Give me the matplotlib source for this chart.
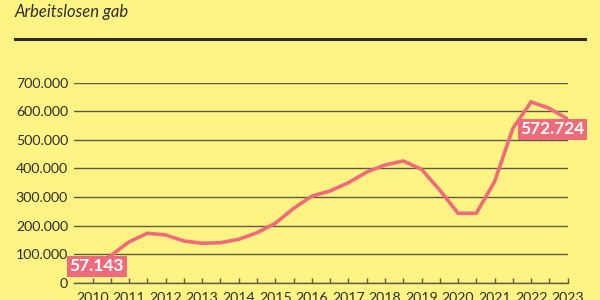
import matplotlib
matplotlib.use('Agg')
import matplotlib.pyplot as plt
from matplotlib.lines import Line2D
from matplotlib.ticker import FuncFormatter

# half-yearly values, unemployed persons
years = [2010, 2010.5, 2011, 2011.5, 2012, 2012.5, 2013, 2013.5, 2014, 2014.5,
         2015, 2015.5, 2016, 2016.5, 2017, 2017.5, 2018, 2018.5, 2019, 2019.5,
         2020, 2020.5, 2021, 2021.5, 2022, 2022.5, 2023]
values = [57143, 95000, 143000, 173000, 167000, 146000, 138000, 140000, 152000, 175000,
          208000, 260000, 303000, 321000, 350000, 387000, 412000, 426000, 397000, 324000,
          243000, 243000, 354000, 540000, 633000, 610000, 572724]
year_labels = list(range(2010, 2024))
y_ticks = [0, 100000, 200000, 300000, 400000, 500000, 600000, 700000]

bg = '#fff383'
pink = '#ef6a7b'
grid_col = '#5c5a48'
text_col = '#2e2e2e'

plt.rcParams['font.family'] = ['Lato', 'DejaVu Sans']

fig = plt.figure(figsize=(6, 3), dpi=100, facecolor=bg)
ax = fig.add_axes([74.3 / 600, 17.3 / 300, 493.4 / 600, 200 / 300])
ax.set_facecolor(bg)

ax.plot(years, values, color=pink, lw=2.6, solid_joinstyle='miter', zorder=3)

ax.set_xlim(2009.5, 2023)
ax.set_ylim(0, 700000)

ax.set_yticks(y_ticks)
ax.yaxis.set_major_formatter(FuncFormatter(lambda v, p: '0' if v == 0 else f'{int(v):,}'.replace(',', '.')))
ax.set_xticks(year_labels)
ax.set_xticks([y + 0.5 for y in year_labels[:-1]], minor=True)

ax.grid(axis='y', color=grid_col, lw=1)
ax.tick_params(axis='y', length=0, pad=4.5, labelsize=10.2, labelcolor=text_col)
ax.tick_params(axis='x', which='both', direction='in', length=3.5, width=1,
               color=grid_col, pad=6.5, labelsize=10.2, labelcolor=text_col)

for s in ['top', 'right', 'left']:
    ax.spines[s].set_visible(False)
ax.spines['bottom'].set_color(grid_col)
ax.spines['bottom'].set_linewidth(1)

box = dict(boxstyle='square,pad=0.15', fc=pink, ec='none')
ax.annotate('57.143', (years[0], values[0]), xytext=(3, 0), textcoords='offset points',
            ha='center', va='center', color='white', fontsize=12.5, fontweight='bold',
            bbox=box, zorder=5, annotation_clip=False)
ax.annotate('572.724', (years[-1], values[-1]), xytext=(-11, -7.5), textcoords='offset points',
            ha='center', va='center', color='white', fontsize=12.5, fontweight='bold',
            bbox=box, zorder=5, annotation_clip=False)

fig.text(15 / 600, 1 - 16.7 / 300, 'Arbeitslosen gab', ha='left', va='baseline',
         fontsize=12, style='italic', color=text_col)
fig.add_artist(Line2D([15 / 600, 585 / 600], [1 - 39 / 300, 1 - 39 / 300],
                      transform=fig.transFigure, color='#2b2b2b', lw=2.2))

fig.savefig('out.png', dpi=100, facecolor=bg)
